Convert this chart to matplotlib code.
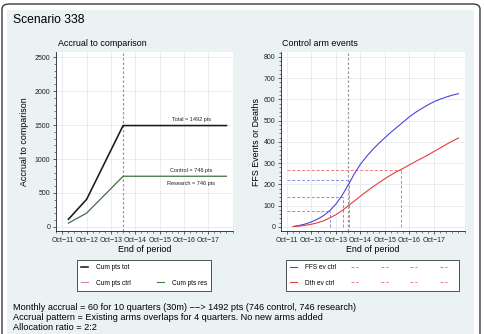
import matplotlib
matplotlib.use("Agg")
import matplotlib.pyplot as plt
from matplotlib.lines import Line2D
from matplotlib.patches import FancyBboxPatch, Rectangle
from matplotlib.ticker import MultipleLocator

plt.rcParams['font.family'] = ['Liberation Sans', 'DejaVu Sans']

# ---- data (time in years after Oct-11) ----
year_labels = ['Oct\u221211', 'Oct\u221212', 'Oct\u221213', 'Oct\u221214',
               'Oct\u221215', 'Oct\u221216', 'Oct\u221217']
year_pos = [0, 1, 2, 3, 4, 5, 6]
accrual_end = 2.5

acc_t = [0.25, 1.0, 2.5, 6.75]
cum_tot = [113, 407, 1492, 1492]
cum_ctrl = [57, 204, 746, 746]
cum_res = [57, 204, 746, 746]
acc_notes = ['Total = 1492 pts', 'Control = 746 pts', 'Research = 746 pts']
acc_note_t = [5.3, 5.3, 5.3]
acc_note_y = [1588, 838, 647]

ev_t = [0.25, 0.5, 0.75, 1.0, 1.25, 1.5, 1.75, 2.0, 2.25, 2.5, 2.75, 3.0, 3.25, 3.5,
        3.75, 4.0, 4.25, 4.5, 4.75, 5.0, 5.25, 5.5, 5.75, 6.0, 6.25, 6.5, 6.75, 7.0]
ffs_ctrl = [2, 7, 14, 24, 37, 54, 77, 108, 148, 198, 250, 295, 332, 364,
            393, 420, 446, 470, 494, 518, 539, 557, 574, 589, 601, 611, 620, 627]
dth_ctrl = [2, 4, 8, 13, 20, 29, 43, 58, 77, 100, 122, 145, 167, 188,
            208, 227, 245, 261, 276, 292, 308, 323, 338, 355, 371, 388, 404, 418]
ffs_marks_t = [1.75, 2.27, 2.55]
ffs_marks_y = [75, 143, 220]
dth_marks_t = [4.65]
dth_marks_y = [268]
dash_x0 = 0.0

footer = ['Monthly accrual = 60 for 10 quarters (30m) \u2212\u2212> 1492 pts (746 control, 746 research)',
          'Accrual pattern = Existing arms overlaps for 4 quarters. No new arms added',
          'Allocation ratio = 2:2']

# ---- colours ----
c_tot = '#1a1a1a'
c_ctrl = '#cc80cc'
c_res = '#3f7f3f'
c_ffs = '#4b45d8'
c_dth = '#e0403c'
c_ffs_d = '#8c8cf0'
c_dth_d = '#f07878'
c_grid = '#e4ebee'
c_panel = '#eaf2f3'

W, H = 484, 334


def fx(px):
    return px / W


def fy(py):
    return 1 - py / H


fig = plt.figure(figsize=(W / 100, H / 100), dpi=100)

# outer frame + shaded panel
fig.patches.append(FancyBboxPatch((fx(2), fy(345)), fx(478), 341 / H,
                                  boxstyle='round,pad=0,rounding_size=0.015',
                                  transform=fig.transFigure, facecolor='white',
                                  edgecolor='#3a3a3a', lw=1.0, zorder=-3))
fig.patches.append(Rectangle((fx(7), fy(345)), fx(467), 335 / H,
                             transform=fig.transFigure, facecolor=c_panel,
                             edgecolor='none', zorder=-2))


def style_axes(ax, ylim, ymajor, yminor, xlim):
    ax.set_facecolor('white')
    ax.set_xlim(*xlim)
    ax.set_ylim(*ylim)
    for s in ['top', 'right']:
        ax.spines[s].set_visible(False)
    for s in ['left', 'bottom']:
        ax.spines[s].set_linewidth(0.6)
        ax.spines[s].set_color('#222222')
    ax.set_xticks(year_pos)
    ax.set_xticklabels(year_labels)
    ax.xaxis.set_minor_locator(MultipleLocator(0.25))
    ax.yaxis.set_major_locator(MultipleLocator(ymajor))
    ax.yaxis.set_minor_locator(MultipleLocator(yminor))
    ax.tick_params(which='major', length=2.5, width=0.5, pad=1.5,
                   labelsize=5.0, colors='#222222')
    ax.tick_params(which='minor', length=1.3, width=0.4, colors='#222222')
    ax.grid(True, which='major', color=c_grid, lw=0.6)
    ax.set_axisbelow(True)
    ax.axvline(accrual_end, color='#9a9a9a', lw=0.9, ls=(0, (2, 1.6)), zorder=1)


# ---- left panel: accrual ----
ax1 = fig.add_axes([fx(56), fy(231), fx(177), 179 / H])
style_axes(ax1, (-59, 2574), 500, 100, (-0.26, 7.02))
ax1.plot(acc_t, cum_tot, color=c_tot, lw=1.15, zorder=3)
ax1.plot(acc_t, cum_ctrl, color=c_ctrl, lw=0.8, zorder=3)
ax1.plot(acc_t, cum_res, color=c_res, lw=0.8, zorder=3)
for txt, t, y in zip(acc_notes, acc_note_t, acc_note_y):
    ax1.text(t, y, txt, fontsize=4.0, ha='center', va='center', color='#222222')

# ---- right panel: control arm events ----
ax2 = fig.add_axes([fx(281), fy(231), fx(184), 179 / H])
style_axes(ax2, (-19, 823), 100, 20, (-0.245, 7.27))
ax2.plot(ev_t, ffs_ctrl, color=c_ffs, lw=0.8, zorder=3)
ax2.plot(ev_t, dth_ctrl, color=c_dth, lw=0.8, zorder=3)
for t, y in zip(ffs_marks_t, ffs_marks_y):
    ax2.hlines(y, dash_x0, t, color=c_ffs_d, lw=0.7, ls=(0, (3, 2)), zorder=2)
    ax2.vlines(t, 0, y, color=c_ffs_d, lw=0.7, ls=(0, (3, 2)), zorder=2)
for t, y in zip(dth_marks_t, dth_marks_y):
    ax2.hlines(y, dash_x0, t, color=c_dth_d, lw=0.7, ls=(0, (3, 2)), zorder=2)
    ax2.vlines(t, 0, y, color=c_dth_d, lw=0.7, ls=(0, (3, 2)), zorder=2)

# ---- titles and labels ----
fig.text(fx(13), fy(20), 'Scenario 338', fontsize=8.7, va='center', ha='left')
fig.text(fx(58), fy(44), 'Accrual to comparison', fontsize=6.4, va='center', ha='left')
fig.text(fx(282), fy(44), 'Control arm events', fontsize=6.4, va='center', ha='left')
fig.text(fx(25), fy(142), 'Accrual to comparison', fontsize=6.4, rotation=90,
         va='center', ha='center')
fig.text(fx(256.5), fy(142), 'FFS Events or Deaths', fontsize=6.4, rotation=90,
         va='center', ha='center')
fig.text(fx(144.5), fy(249), 'End of period', fontsize=6.4, va='center', ha='center')
fig.text(fx(373), fy(249), 'End of period', fontsize=6.4, va='center', ha='center')

# ---- legends ----
blank = Line2D([], [], color='none')
leg_kw = dict(loc='center', mode='expand', fontsize=4.7, frameon=True, fancybox=False,
              edgecolor='#333333', framealpha=1, handlelength=1.1, handletextpad=1.2,
              borderpad=0.6, labelspacing=1.3, bbox_transform=fig.transFigure)
h_tot = Line2D([], [], color=c_tot, lw=1.15)
h_ctrl = Line2D([], [], color=c_ctrl, lw=0.8)
h_res = Line2D([], [], color=c_res, lw=0.8)
leg1 = fig.legend([h_tot, h_ctrl, blank, h_res],
                  ['Cum pts tot', 'Cum pts ctrl', '', 'Cum pts res'], ncol=2,
                  bbox_to_anchor=(fx(74), fy(291), fx(140), 31 / H), **leg_kw)
leg1.get_frame().set_linewidth(0.6)

h_ffs = Line2D([], [], color=c_ffs, lw=0.8)
h_dth = Line2D([], [], color=c_dth, lw=0.8)
h_ffs_d = Line2D([], [], color=c_ffs_d, lw=0.7, ls=(0, (3, 2)))
h_dth_d = Line2D([], [], color=c_dth_d, lw=0.7, ls=(0, (3, 2)))
handles2 = [h_ffs, h_dth] + [h_ffs_d, h_dth_d] * 4
labels2 = ['FFS ev ctrl', 'Dth ev ctrl'] + [''] * 8
leg2 = fig.legend(handles2, labels2, ncol=5,
                  bbox_to_anchor=(fx(283), fy(291), fx(179), 31 / H), **leg_kw)
leg2.get_frame().set_linewidth(0.6)

# ---- footer notes ----
for i, line in enumerate(footer):
    fig.text(fx(13), fy(308 + 10 * i), line, fontsize=6.6, va='center', ha='left')

fig.savefig('out.png', dpi=100)
